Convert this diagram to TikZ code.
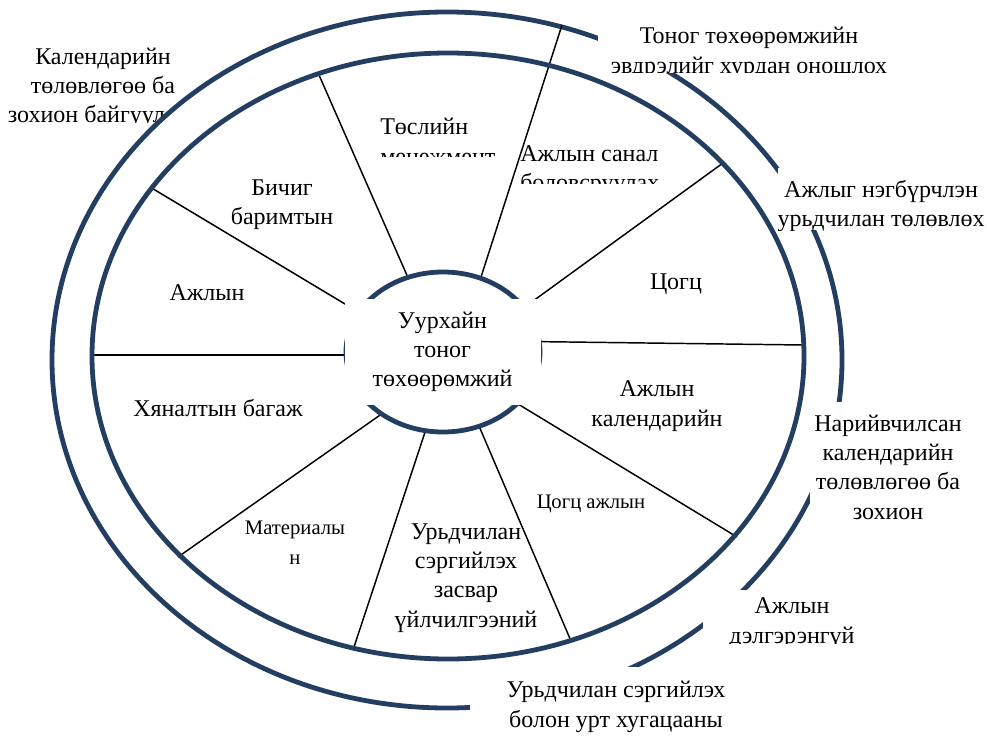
\documentclass[tikz,border=0pt]{standalone}
\usepackage{fontspec}
\setmainfont{Liberation Serif}
\definecolor{ringblue}{RGB}{36,62,98}

\begin{document}
\begin{tikzpicture}[x=0.75pt,y=0.75pt,yscale=-1,xscale=1,
	ring/.style={draw=ringblue,line width=3.6pt},
	spoke/.style={draw=black,line width=1.1pt},
	lbl/.style={align=center,inner sep=0pt,font=\fontsize{18}{22}\selectfont},
	smalllbl/.style={align=center,inner sep=0pt,font=\fontsize{15.5}{22.5}\selectfont}]
	\useasboundingbox (0,0) rectangle (987,738);
	
	% Text Node (cut off by the ring below)
	\begin{scope}
		\clip (0,40) rectangle (240,123);
		\node[lbl] (calplan) at (103,88) {Календарийн\\төлөвлөгөө ба\\зохион байгуулалт};
	\end{scope}
	
	%Shape: Ellipse (outer ring)
	\draw[ring,fill=white] (447,360) ellipse [x radius=395,y radius=348];
	
	%Straight Lines
	\coordinate (s1) at (400,355);  \coordinate (e1) at (92,355);
	\coordinate (s2) at (400,337);  \coordinate (e2) at (150,187);
	\coordinate (s3) at (420,305);  \coordinate (e3) at (319,75);
	\coordinate (s4) at (472,305);  \coordinate (e4) at (562,25);
	\coordinate (s5) at (500,325);  \coordinate (e5) at (723,163);
	\coordinate (s6) at (490,341);  \coordinate (e6) at (803,345);
	\coordinate (s7) at (490,387);  \coordinate (e7) at (737,537);
	\coordinate (s8) at (470,405);  \coordinate (e8) at (571,641);
	\coordinate (s9) at (432,411);  \coordinate (e9) at (353,650);
	\coordinate (s10) at (420,387); \coordinate (e10) at (178,557);
	\draw[spoke] (s1) -- (e1);
	\draw[spoke] (s2) -- (e2);
	\draw[spoke] (s3) -- (e3);
	\draw[spoke] (s4) -- (e4);
	\draw[spoke] (s5) -- (e5);
	\draw[spoke] (s6) -- (e6);
	\draw[spoke] (s7) -- (e7);
	\draw[spoke] (s8) -- (e8);
	\draw[spoke] (s9) -- (e9);
	\draw[spoke] (s10) -- (e10);
	
	%Shape: Ellipse (inner ring)
	\draw[ring] (448,356) ellipse [x radius=356,y radius=303];
	
	% Text Node
	\begin{scope}
		\clip (360,100) rectangle (520,156);
		\node[lbl,align=left,anchor=north west] (project) at (380,118) {Төслийн\\менежмент};
	\end{scope}
	% Text Node
	\begin{scope}
		\clip (505,130) rectangle (700,183);
		\node[lbl,align=left,anchor=north west] (offer) at (520,145) {Ажлын санал\\боловсруулах};
	\end{scope}
	% Text Node
	\node[lbl] (docs) at (282,205) {Бичиг\\баримтын};
	% Text Node
	\node[lbl] (work) at (207,293) {Ажлын};
	% Text Node
	\node[lbl] (complex) at (676,284) {Цогц};
	% Text Node
	\node[lbl] (tools) at (218,408) {Хяналтын багаж};
	% Text Node
	\node[lbl] (calendar) at (657,406) {Ажлын\\календарийн};
	% Text Node
	\node[smalllbl] (complexwork) at (591,504) {Цогц ажлын};
	% Text Node
	\node[smalllbl] (material) at (295,543) {Материалы\\н};
	% Text Node
	\node[lbl] (service) at (466,578) {Урьдчилан\\сэргийлэх\\засвар\\үйлчилгээний};
	
	%Shape: Ellipse (hub)
	\draw[ring,fill=white] (443,352) ellipse [x radius=97,y radius=80];
	% Text Node
	\node[lbl,fill=white,minimum width=147pt,minimum height=80pt] (hub) at (442.5,352) {Уурхайн\\тоног\\төхөөрөмжий};
	
	% Text Node
	\begin{scope}
		\clip (598,0) rectangle (905,73);
		\fill[white] (598,0) rectangle (905,73);
		\node[lbl] (diagnose) at (749,53) {Тоног төхөөрөмжийн\\эвдрэлийг хурдан оношлох};
	\end{scope}
	% Text Node
	\begin{scope}
		\clip (778,168) rectangle (987,230);
		\fill[white] (778,168) rectangle (987,230);
		\node[lbl] (plan) at (881,206) {Ажлыг нэгбүрчлэн\\урьдчилан төлөвлөх};
	\end{scope}
	% Text Node
	\begin{scope}
		\clip (810,402) rectangle (975,535);
		\fill[white] (810,402) rectangle (975,535);
		\node[lbl] (detailed) at (888,467) {Нарийвчилсан\\календарийн\\төлөвлөгөө ба\\зохион};
	\end{scope}
	% Text Node
	\begin{scope}
		\clip (703,590) rectangle (880,643);
		\fill[white] (703,590) rectangle (880,643);
		\node[lbl] (detail) at (792,623) {Ажлын\\дэлгэрэнгүй};
	\end{scope}
	% Text Node
	\begin{scope}
		\clip (470,667) rectangle (770,738);
		\fill[white] (470,667) rectangle (770,738);
		\node[lbl] (longterm) at (616,707) {Урьдчилан сэргийлэх\\болон урт хугацааны};
	\end{scope}
\end{tikzpicture}
\end{document}
